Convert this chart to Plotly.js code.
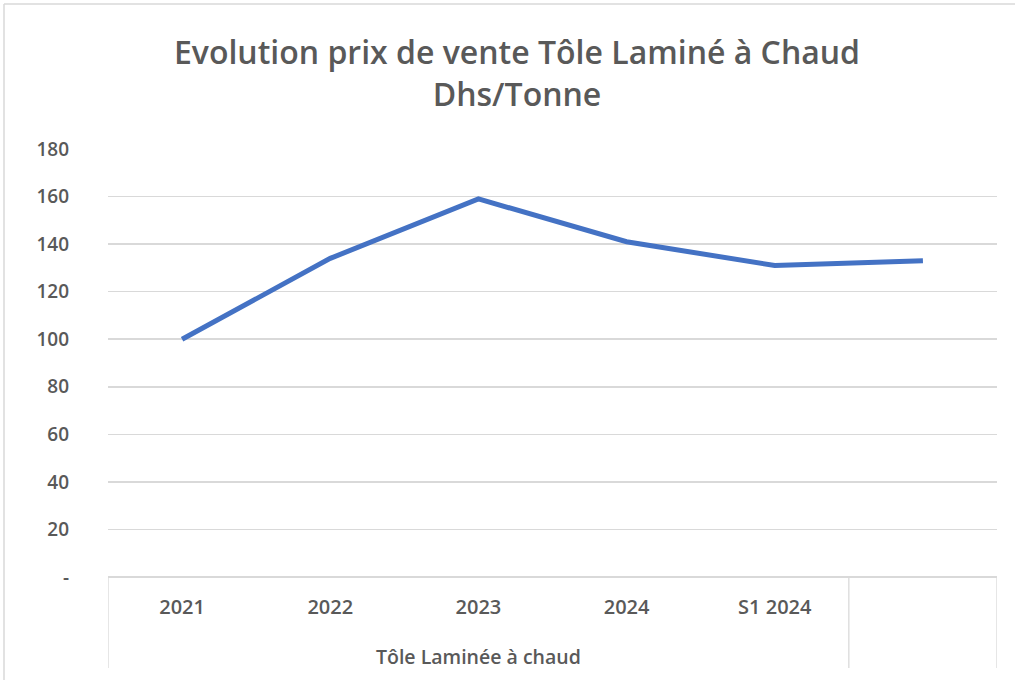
<!DOCTYPE html>
<html><head><meta charset="utf-8">
<script src="https://cdn.plot.ly/plotly-3.0.1.min.js"></script>
<style>html,body{margin:0;padding:0;background:#fff;}#chart{width:1015px;height:680px;}</style>
</head><body><div id="chart"></div>
<script>
const categories = ['2021', '2022', '2023', '2024', 'S1 2024', ''];
const prices = [100, 134, 159, 141, 131, 133];
const groupLabel = 'Tôle Laminée à chaud';
const yTickValues = [0, 20, 40, 60, 80, 100, 120, 140, 160, 180];
const yTickLabels = ['-', '20', '40', '60', '80', '100', '120', '140', '160', '180'];

const idx = categories.map((c, i) => i);
const FONT = 'Open Sans, Noto Sans, sans-serif';
const GREY = '#595959';

const trace = {
  x: idx, y: prices, type: 'scatter', mode: 'lines',
  line: {color: '#4472C4', width: 5},
  hoverinfo: 'skip'
};

const L = 108, R = 997, T = 149, B = 577;
const px2x = p => (p - L) / (R - L);
const px2y = p => (B - p) / (B - T);

const shapes = [
  {type: 'line', xref: 'x', yref: 'paper', x0: -0.5, x1: -0.5, y0: 0, y1: px2y(668), line: {color: '#d9d9d9', width: 1.3}},
  {type: 'line', xref: 'x', yref: 'paper', x0: 4.5, x1: 4.5, y0: 0, y1: px2y(668), line: {color: '#d9d9d9', width: 1.3}},
  {type: 'line', xref: 'x', yref: 'paper', x0: 5.5, x1: 5.5, y0: 0, y1: px2y(668), line: {color: '#d9d9d9', width: 1.3}},
  {type: 'line', xref: 'paper', yref: 'paper', x0: px2x(4), x1: px2x(4), y0: px2y(4), y1: px2y(690), line: {color: '#d9d9d9', width: 1.5}},
  {type: 'line', xref: 'paper', yref: 'paper', x0: px2x(4), x1: px2x(1020), y0: px2y(4), y1: px2y(4), line: {color: '#d9d9d9', width: 1.5}}
];

const layout = {
  width: 1015, height: 680,
  margin: {l: L, r: 1015 - R, t: T, b: 680 - B},
  paper_bgcolor: '#fff', plot_bgcolor: '#fff',
  showlegend: false,
  title: {
    text: 'Evolution prix de vente Tôle Laminé à Chaud<br>Dhs/Tonne',
    font: {family: FONT, size: 32, color: GREY, weight: 600},
    x: 517 / 1015, xref: 'container', xanchor: 'center',
    y: 1 - 64 / 680, yref: 'container', yanchor: 'middle'
  },
  xaxis: {
    range: [-0.5, categories.length - 0.5],
    tickvals: idx, ticktext: categories,
    showgrid: false, zeroline: false,
    showline: false, ticks: '',
    tickfont: {family: FONT, size: 20, color: GREY, weight: 600},
    ticklabelstandoff: 16
  },
  yaxis: {
    range: [0, 180],
    tickvals: yTickValues, ticktext: yTickLabels,
    showgrid: true, gridcolor: '#d9d9d9', gridwidth: 1.5,
    zeroline: true, zerolinecolor: '#d9d9d9', zerolinewidth: 1.5,
    showline: false, ticks: '',
    tickfont: {family: FONT, size: 19, color: GREY, weight: 600},
    ticklabelstandoff: 38
  },
  shapes: shapes,
  annotations: [{
    text: groupLabel, xref: 'x', yref: 'paper',
    x: 2, y: px2y(656), xanchor: 'center', yanchor: 'middle',
    showarrow: false,
    font: {family: FONT, size: 19.5, color: GREY, weight: 600}
  }]
};

Plotly.newPlot('chart', [trace], layout, {displayModeBar: false, staticPlot: true});
</script></body></html>
